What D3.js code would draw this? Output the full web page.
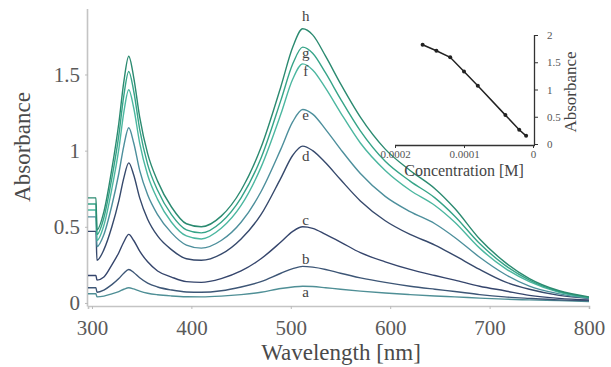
<!DOCTYPE html>
<html><head><meta charset="utf-8">
<script src="https://cdn.jsdelivr.net/npm/d3@7"></script>
<style>
html,body{margin:0;padding:0;background:#fff;}
svg{display:block;}
</style></head>
<body>
<svg id="chart" width="611" height="367"></svg>
<script>
// ---- data ----
const wavelengths = [296,304,305,312,320,327,332,337,342,348,356,366,380,395,410,430,450,470,490,502,512,522,535,550,570,595,620,645,665,690,715,740,770,800];
const seriesNames = ["a","b","c","d","e","f","g","h"];
const serA = [.06,.06,.04,.045,.06,.075,.09,.10,.092,.078,.064,.054,.046,.041,.04,.045,.055,.07,.095,.105,.11,.108,.10,.09,.078,.065,.055,.046,.04,.032,.025,.02,.015,.01];
const serB = [.10,.10,.07,.085,.12,.16,.195,.22,.20,.165,.13,.105,.085,.072,.07,.08,.105,.14,.195,.225,.24,.235,.22,.195,.165,.135,.11,.09,.075,.055,.04,.03,.02,.015];
const serC = [.18,.18,.15,.17,.25,.33,.40,.45,.41,.34,.27,.21,.17,.14,.135,.16,.21,.29,.40,.47,.50,.49,.45,.40,.33,.27,.22,.18,.15,.11,.08,.05,.03,.02];
const serD = [.47,.47,.28,.35,.50,.67,.82,.92,.84,.69,.55,.44,.35,.29,.28,.32,.42,.58,.82,.97,1.03,1.00,.92,.81,.67,.54,.45,.38,.31,.22,.14,.09,.05,.03];
const serE = [.565,.565,.37,.45,.64,.85,1.03,1.15,1.05,.87,.71,.58,.46,.38,.36,.41,.53,.73,1.01,1.19,1.27,1.24,1.14,1.01,.85,.70,.60,.52,.43,.30,.19,.11,.06,.03];
const serF = [.61,.61,.41,.51,.75,1.01,1.25,1.40,1.28,1.05,.84,.68,.53,.44,.42,.49,.64,.89,1.24,1.47,1.57,1.53,1.41,1.25,1.05,.87,.74,.64,.53,.36,.23,.14,.07,.035];
const serG = [.65,.65,.45,.56,.82,1.10,1.36,1.52,1.39,1.14,.91,.74,.58,.48,.46,.53,.69,.95,1.33,1.57,1.68,1.64,1.51,1.34,1.13,.93,.80,.69,.57,.39,.25,.15,.075,.035];
const serH = [.69,.69,.48,.60,.88,1.18,1.45,1.62,1.48,1.22,.98,.80,.63,.52,.50,.57,.74,1.02,1.42,1.68,1.80,1.76,1.62,1.44,1.22,1.01,.87,.75,.62,.42,.27,.16,.08,.04];
const xTicks = [300,400,500,600,700,800];
const yTicks = [0,0.5,1,1.5];

const insetConc = [1.6e-4,1.4e-4,1.2e-4,1.0e-4,0.8e-4,0.4e-4,0.2e-4,0.1e-4];
const insetAbs  = [1.82,1.71,1.59,1.33,1.07,0.53,0.26,0.15];
const insetXTicks = [0.0002,0.0001,0];
const insetXTickLabels = ["0.0002","0.0001","0"];
const insetYTicks = [0,0.5,1,1.5,2];

// ---- styles ----
const FONT = "'Liberation Serif', 'Times New Roman', serif";
const colors = {a:"#4f8f96",b:"#3d5676",c:"#35456c",d:"#36496c",e:"#4d8f9c",f:"#4cb7a0",g:"#36a488",h:"#2b8a70"};
const labelOffset = {a:7,b:-6,c:-5,d:11,e:7,f:9,g:7,h:-11};
const allSeries = [serA,serB,serC,serD,serE,serF,serG,serH];

const svg = d3.select("#chart");
const x = d3.scaleLinear().domain([296,800]).range([88,589]);
const y = d3.scaleLinear().domain([-0.02,1.93]).range([306,9]);

// axes
const gx = svg.append("g").attr("transform","translate(0,306)")
  .call(d3.axisBottom(x).tickValues(xTicks).tickSize(3).tickPadding(11).tickFormat(d3.format("d")));
const gy = svg.append("g").attr("transform","translate(88,0)")
  .call(d3.axisLeft(y).tickValues(yTicks).tickSize(3).tickPadding(5).tickFormat(d=>d===0?"0":String(d)));
[gx,gy].forEach(g=>{
  g.attr("font-family",null).attr("font-size",null);
  g.select(".domain").attr("stroke","#c4c4c4").attr("stroke-width",1.6);
  g.selectAll(".tick line").attr("stroke","#bbb");
  g.selectAll(".tick text").attr("fill","#5a5a5a").style("font-family",FONT).style("font-size","21px");
});
gy.select(".domain").attr("d","M-0.5,9V306.5");

svg.append("text").attr("x",341).attr("y",360).attr("text-anchor","middle")
  .attr("fill","#4a4a4a").style("font-family",FONT).style("font-size","23px").text("Wavelength [nm]");
svg.append("text").attr("transform","translate(30,147) rotate(-90)").attr("text-anchor","middle")
  .attr("fill","#4a4a4a").style("font-family",FONT).style("font-size","23px").text("Absorbance");

// curves
const line = d3.line().x((d,i)=>x(wavelengths[i])).y(d=>y(d)).curve(d3.curveMonotoneX);
allSeries.forEach((s,k)=>{
  const n = seriesNames[k];
  svg.append("path").attr("d",line(s)).attr("fill","none")
    .attr("stroke",colors[n]).attr("stroke-width",1.4);
  const peak = d3.max(s.slice(15));
  svg.append("text").attr("x",x(515)).attr("y",y(peak)+labelOffset[n])
    .attr("text-anchor","middle").attr("dominant-baseline","middle")
    .attr("fill","#444").style("font-family",FONT).style("font-size","15px").text(n);
});

// inset
const ix = d3.scaleLinear().domain([0,0.0002]).range([533,395]);
const iy = d3.scaleLinear().domain([0,2]).range([144,35]);
const gix = svg.append("g").attr("transform","translate(0,145)")
  .call(d3.axisBottom(ix).tickValues(insetXTicks).tickSize(3).tickPadding(2)
    .tickFormat((d,i)=>insetXTickLabels[i]));
const giy = svg.append("g").attr("transform","translate(534,0)")
  .call(d3.axisRight(iy).tickValues(insetYTicks).tickSize(4).tickPadding(9).tickFormat(d=>String(d)));
[gix,giy].forEach(g=>{
  g.attr("font-family",null).attr("font-size",null);
  g.select(".domain").attr("stroke","#333").attr("stroke-width",1.3);
  g.selectAll(".tick line").attr("stroke","#333");
  g.selectAll(".tick text").attr("fill","#555").style("font-family",FONT).style("font-size","11px");
});
gix.select(".domain").attr("d","M395,0.5H535");
giy.select(".domain").attr("d","M0.5,35V145");

const iline = d3.line().x((d,i)=>ix(insetConc[i])).y(d=>iy(d));
svg.append("path").attr("d",iline(insetAbs)).attr("fill","none").attr("stroke","#222").attr("stroke-width",1.5);
svg.selectAll(".ipt").data(insetAbs).enter().append("circle")
  .attr("cx",(d,i)=>ix(insetConc[i])).attr("cy",d=>iy(d)).attr("r",2).attr("fill","#222");

svg.append("text").attr("x",464).attr("y",176).attr("text-anchor","middle")
  .attr("fill","#444").style("font-family",FONT).style("font-size","16px").text("Concentration [M]");
svg.append("text").attr("transform","translate(576,92) rotate(-90)").attr("text-anchor","middle")
  .attr("fill","#444").style("font-family",FONT).style("font-size","17px").text("Absorbance");
</script>
</body></html>
